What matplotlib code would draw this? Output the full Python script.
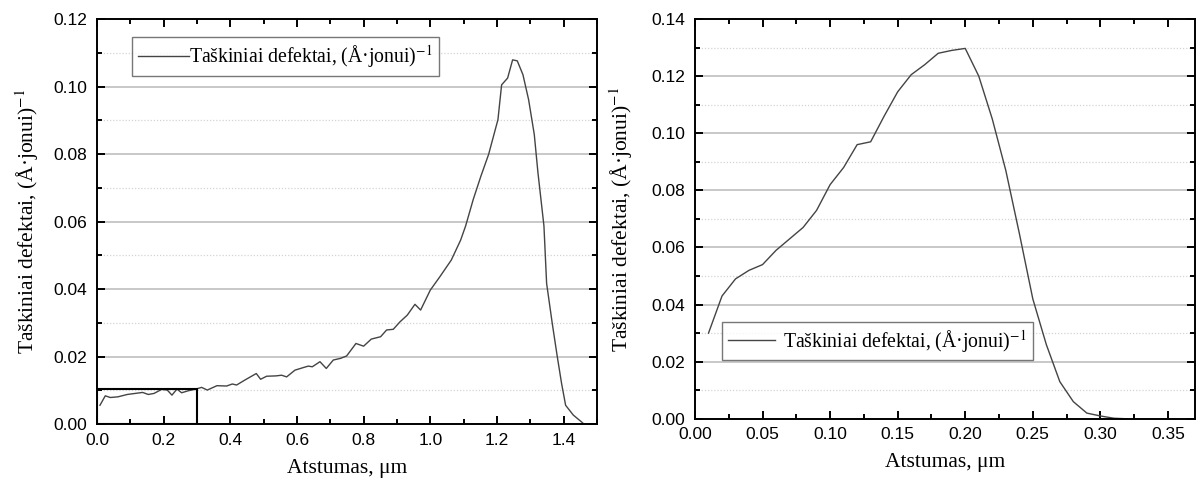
"""
plot.py
-------
Point defect depth profiles (two panels), written to out.png.
"""

import matplotlib
matplotlib.use("Agg")
import matplotlib.pyplot as plt
from matplotlib.patches import Rectangle
from matplotlib.ticker import MultipleLocator, FormatStrFormatter

# ── data ─────────────────────────────────────────────────────────────────────
# left panel: deep profile, x in µm
depth_left = [0.009, 0.025, 0.040, 0.063, 0.091, 0.114, 0.137, 0.154, 0.171, 0.194,
              0.211, 0.225, 0.240, 0.254, 0.274, 0.297, 0.314, 0.331, 0.360, 0.389,
              0.406, 0.419, 0.446, 0.478, 0.491, 0.509, 0.537, 0.554, 0.569, 0.594,
              0.617, 0.634, 0.646, 0.669, 0.688, 0.709, 0.731, 0.749, 0.777, 0.800,
              0.823, 0.851, 0.869, 0.889, 0.909, 0.931, 0.954, 0.971, 1.000, 1.029,
              1.063, 1.091, 1.106, 1.129, 1.152, 1.175, 1.203, 1.214, 1.232, 1.247,
              1.261, 1.278, 1.295, 1.312, 1.323, 1.341, 1.349, 1.366, 1.381, 1.394,
              1.406, 1.429, 1.457]
defects_left = [0.0056, 0.0084, 0.0079, 0.0081, 0.0088, 0.0091, 0.0094, 0.0088, 0.0091, 0.0103,
                0.0101, 0.0086, 0.0104, 0.0093, 0.0099, 0.0104, 0.0109, 0.0101, 0.0114, 0.0113,
                0.0119, 0.0116, 0.0132, 0.0150, 0.0133, 0.0142, 0.0143, 0.0145, 0.0140, 0.0160,
                0.0167, 0.0172, 0.0170, 0.0185, 0.0165, 0.0190, 0.0195, 0.0202, 0.0239, 0.0231,
                0.0252, 0.0259, 0.0279, 0.0281, 0.0303, 0.0323, 0.0355, 0.0338, 0.0397, 0.0437,
                0.0486, 0.0545, 0.0587, 0.0666, 0.0735, 0.0799, 0.0902, 0.1005, 0.1025, 0.1079,
                0.1076, 0.1035, 0.0961, 0.0858, 0.0745, 0.0587, 0.0417, 0.0298, 0.0200, 0.0120,
                0.0056, 0.0027, 0.0004]

# right panel: shallow profile, x in µm
depth_right = [0.01, 0.02, 0.03, 0.04, 0.05, 0.06, 0.07, 0.08, 0.09, 0.10,
               0.11, 0.12, 0.13, 0.14, 0.15, 0.16, 0.17, 0.18, 0.19, 0.20,
               0.21, 0.22, 0.23, 0.24, 0.25, 0.26, 0.27, 0.28, 0.29, 0.30,
               0.31, 0.32]
defects_right = [0.0300, 0.0430, 0.0490, 0.0520, 0.0540, 0.0590, 0.0630, 0.0670, 0.0730, 0.0820,
                 0.0880, 0.0960, 0.0970, 0.1060, 0.1145, 0.1205, 0.1240, 0.1280, 0.1290, 0.1297,
                 0.1200, 0.1050, 0.0870, 0.0650, 0.0420, 0.0260, 0.0130, 0.0060, 0.0020, 0.0010,
                 0.0002, 0.0000]

LEGEND_LABEL = "Taškiniai defektai, (Å·jonui)$^{-1}$"
Y_LABEL = "Taškiniai defektai, (Å·jonui)$^{-1}$"
X_LABEL = "Atstumas, μm"

LINE_COLOR = "#444444"
SANS = ["Liberation Sans", "DejaVu Sans"]
SERIF = ["Liberation Serif", "DejaVu Serif"]

plt.rcParams["mathtext.fontset"] = "stix"


# ── helpers ───────────────────────────────────────────────────────────────────
def style_axes(ax, x_major, x_minor, x_fmt, y_max, ylabel_pad):
    ax.set_ylim(0, y_max)
    ax.xaxis.set_major_locator(MultipleLocator(x_major))
    ax.xaxis.set_minor_locator(MultipleLocator(x_minor))
    ax.xaxis.set_major_formatter(FormatStrFormatter(x_fmt))
    ax.yaxis.set_major_locator(MultipleLocator(0.02))
    ax.yaxis.set_minor_locator(MultipleLocator(0.01))
    ax.yaxis.set_major_formatter(FormatStrFormatter("%.2f"))

    ax.grid(True, which="major", axis="y", color="#c4c4c4", lw=1.3)
    ax.grid(True, which="minor", axis="y", color="#d4d4d4", lw=0.9, ls=(0, (1, 1.5)))
    ax.set_axisbelow(True)

    ax.tick_params(which="both", direction="in", top=True, right=True,
                   width=1.4, labelsize=12.5)
    ax.tick_params(axis="y", pad=7)
    ax.tick_params(axis="x", pad=6)
    ax.tick_params(which="major", length=6)
    ax.tick_params(which="minor", length=3.5)
    for lbl in ax.get_xticklabels() + ax.get_yticklabels():
        lbl.set_family(SANS)
    for sp in ax.spines.values():
        sp.set_linewidth(1.4)

    ax.set_xlabel(X_LABEL, family=SERIF, fontsize=15.5, labelpad=8)
    ax.set_ylabel(Y_LABEL, family=SERIF, fontsize=15.5, labelpad=ylabel_pad)


# ── figure ────────────────────────────────────────────────────────────────────
fig = plt.figure(figsize=(11.97, 4.87), dpi=100)
ax_l = fig.add_axes([0.081, 0.129, 0.4177, 0.832])
ax_r = fig.add_axes([0.5806, 0.140, 0.4177, 0.821])

# left panel
ax_l.plot(depth_left, defects_left, color=LINE_COLOR, lw=1.0, label=LEGEND_LABEL)
ax_l.set_xlim(0, 1.5)
style_axes(ax_l, 0.2, 0.1, "%.1f", 0.12, ylabel_pad=9)
ax_l.add_patch(Rectangle((0.0, 0.0), 0.3, 0.0104, fill=False,
                         edgecolor="black", lw=1.5, zorder=3))
leg = ax_l.legend(loc="upper left", bbox_to_anchor=(0.07, 0.955),
                  prop={"family": SERIF, "size": 14.2},
                  frameon=True, fancybox=False, edgecolor="#555555",
                  handlelength=2.6, handletextpad=0.0, borderpad=0.3,
                  borderaxespad=0.0)
leg.get_frame().set_linewidth(1.0)

# right panel
ax_r.plot(depth_right, defects_right, color=LINE_COLOR, lw=1.0, label=LEGEND_LABEL)
ax_r.set_xlim(0, 0.37)
style_axes(ax_r, 0.05, 0.025, "%.2f", 0.14, ylabel_pad=12)
leg = ax_r.legend(loc="lower left", bbox_to_anchor=(0.054, 0.146),
                  prop={"family": SERIF, "size": 14.2},
                  frameon=True, fancybox=False, edgecolor="#555555",
                  handlelength=2.4, handletextpad=0.4, borderpad=0.3,
                  borderaxespad=0.0)
leg.get_frame().set_linewidth(1.0)

fig.savefig("out.png", dpi=100)
print("Saved figure → out.png")
